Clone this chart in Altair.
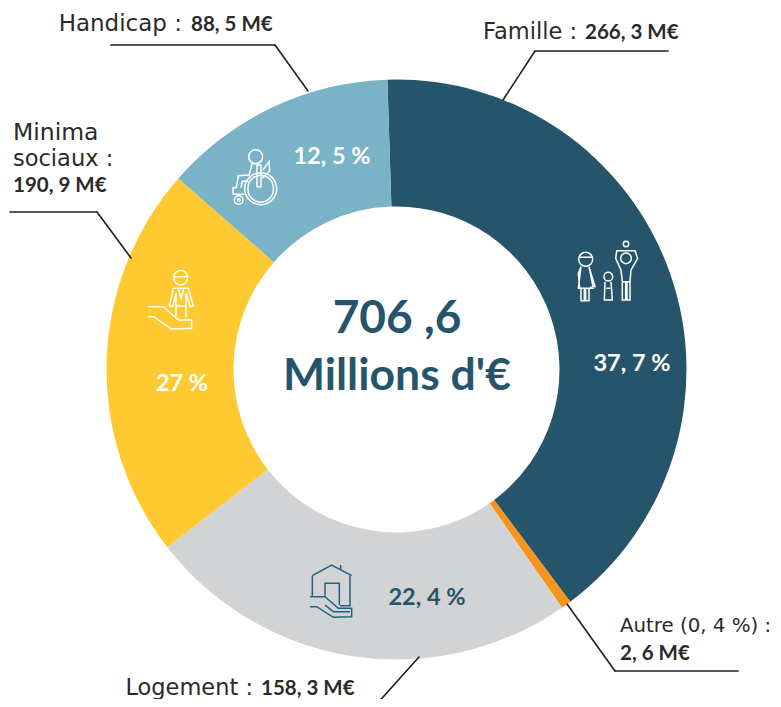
import math
import altair as alt
import pandas as pd

# Slices as drawn in the picture (angular share, degrees)
categories = ["Famille", "Autre", "Logement", "Minima sociaux", "Handicap"]
drawn_share = [145.0, 2.0, 87.0, 79.0, 47.0]
colors = ["#26556b", "#f7941d", "#d1d3d4", "#ffca31", "#7ab2c6"]

DARK = "#26556b"
INK = "#2b2a29"
FONT = "DejaVu Sans"
BOLD = "Lato"
START = math.radians(-1.8)

W, H = 765, 691
CX, CY = 396.5 - 8, 369.5 - 8


def px(v):
    return alt.value(v - 8)


one = pd.DataFrame({"a": [0]})

slices = pd.DataFrame({"cat": categories, "share": drawn_share, "col": colors, "i": range(5)})
donut = alt.Chart(slices).mark_arc(outerRadius=290, innerRadius=163).encode(
    theta=alt.Theta("share:Q", stack=True,
                    scale=alt.Scale(domain=[0, sum(drawn_share)], range=[START, START + 2 * math.pi])),
    order=alt.Order("i:Q"),
    color=alt.Color("col:N", scale=None, legend=None),
    x=alt.value(CX),
    y=alt.value(CY),
)


def text(t, x, y, size=23, weight="normal", color=INK, align="left", font=FONT):
    return alt.Chart(pd.DataFrame({"t": [t]})).mark_text(
        fontSize=size, fontWeight=weight, color=color, align=align, baseline="alphabetic", font=font
    ).encode(text="t:N", x=px(x), y=px(y))


def value(t, x, y):
    return text(t, x, y, size=20.5, weight="bold", font=BOLD)


def big(t, x, y, size, color="white"):
    return text(t, x, y, size=size, weight="bold", color=color, align="center", font=BOLD)


def leader(points):
    layers = []
    for (x0, y0), (x1, y1) in zip(points, points[1:]):
        layers.append(alt.Chart(one).mark_rule(color="#1f1f1f", strokeWidth=1.6, strokeCap="round").encode(
            x=px(x0), y=px(y0), x2=px(x1), y2=px(y1)))
    return layers


def build_icon(parts, cx, cy, half):
    out = []
    for p in parts:
        if p[0] == "c":
            _, x, y, r = p
            X, Y, R = (x - cx) / half, (y - cy) / half, r / half
            out.append(f"M{X - R:.3f},{Y:.3f}A{R:.3f},{R:.3f} 0 1 0 {X + R:.3f},{Y:.3f}"
                       f"A{R:.3f},{R:.3f} 0 1 0 {X - R:.3f},{Y:.3f}Z")
        else:
            pts = [((x - cx) / half, (y - cy) / half) for x, y in p]
            out.append("M" + "L".join(f"{a:.3f},{b:.3f}" for a, b in pts))
    return "".join(out)


def icon(parts, ox, oy, color, width=1.5):
    # parts are sketched in a 3x local frame with origin (ox, oy)
    half = 120.0
    cx, cy = 120.0, 120.0
    return alt.Chart(one).mark_point(
        shape=build_icon(parts, cx, cy, half), size=(2 * half / 3) ** 2, filled=False,
        stroke=color, strokeWidth=width, opacity=1,
    ).encode(x=px(ox + 40), y=px(oy + 40))


family = [
    ("c", 62, 88, 21),
    [(40, 82), (84, 82)],
    [(48, 110), (40, 175), (85, 175), (72, 110)],
    [(48, 110), (40, 130), (44, 175)],
    [(48, 175), (48, 212), (58, 212), (58, 175)],
    [(62, 175), (62, 212), (72, 212), (72, 175)],
    [(72, 110), (90, 170), (76, 172)],
    ("c", 130, 140, 13),
    [(120, 155), (118, 210), (142, 210), (138, 155)],
    [(124, 175), (136, 175)],
    ("c", 183, 42, 8),
    [(168, 120), (152, 85), (155, 62), (210, 62), (218, 85), (198, 120)],
    ("c", 183, 85, 16),
    [(168, 120), (172, 155), (195, 155), (198, 120)],
    [(172, 155), (172, 210), (182, 210), (182, 155)],
    [(186, 155), (186, 210), (195, 210), (195, 155)],
]
wheelchair = [
    ("c", 107, 131, 48),
    ("c", 107, 131, 38),
    ("c", 41, 165, 13),
    ("c", 41, 165, 4),
    ("c", 92, 35, 21),
    [(96, 60), (96, 125), (108, 125), (108, 60), (96, 60)],
    [(114, 75), (132, 50), (134, 78), (112, 100)],
    [(82, 55), (72, 90), (40, 92), (34, 128), (24, 128), (24, 148), (58, 148)],
    [(70, 110), (52, 108), (48, 128)],
]
person_hand = [
    ("c", 152, 53, 20),
    [(133, 50), (171, 50)],
    [(130, 85), (118, 138), (128, 140), (138, 100)],
    [(130, 85), (175, 85), (190, 138), (180, 140), (168, 100)],
    [(138, 100), (138, 170)],
    [(168, 100), (168, 172)],
    [(138, 138), (168, 138)],
    [(145, 88), (153, 115), (161, 88)],
    [(55, 140), (100, 140), (145, 180), (185, 180), (185, 205), (125, 207), (70, 170), (55, 170)],
]
house = [
    [(52, 62), (110, 30), (170, 62)],
    [(137, 30), (137, 44)],
    [(52, 62), (52, 122)],
    [(165, 62), (165, 152), (135, 152)],
    [(90, 122), (90, 85), (133, 85), (133, 150)],
    [(45, 125), (90, 125), (130, 160), (170, 160), (170, 185), (115, 187), (65, 155), (45, 155)],
    [(90, 150), (115, 170), (165, 170)],
]

layers = [donut]
for pts in [
    [(111, 45), (275, 45), (308, 91)],
    [(10, 212), (97, 212), (131, 258)],
    [(668, 51), (535, 51), (503, 100)],
    [(567, 604), (615, 671), (738, 671)],
    [(419, 657), (375, 706)],
]:
    layers += leader(pts)

layers += [
    text("Handicap :", 182, 31, align="right"),
    value("88, 5 M€", 191, 31),
    text("Famille :", 577, 39, size=22.5, align="right"),
    value("266, 3 M€", 585, 39),
    text("Minima", 13, 140, size=23.5),
    text("sociaux :", 13, 166, size=22.5),
    value("190, 9 M€", 13, 192),
    text("Autre (0, 4 %) :", 620, 632, size=19.8),
    value("2, 6 M€", 620, 660),
    text("Logement :", 253, 695, size=22.5, align="right"),
    value("158, 3 M€", 261, 695),
    big("706 ,6", 397, 333, 46, DARK),
    big("Millions d'€", 397, 390, 44.5, DARK),
    big("37, 7 %", 632, 371, 23.5),
    big("12, 5 %", 332, 164, 23.5),
    big("27 %", 182, 391, 23.5),
    big("22, 4 %", 427, 605, 23.5, DARK),
    icon(family, 565, 230, "white"),
    icon(wheelchair, 225, 145, "white"),
    icon(person_hand, 130, 260, "white"),
    icon(house, 295, 555, "#1f6283"),
]

chart = alt.layer(*layers).properties(
    width=W, height=H, padding=0, autosize=alt.AutoSizeParams(type="none"), background="white"
).configure_view(stroke=None)

chart.save("out.html", embed_options={"renderer": "svg", "actions": False})
